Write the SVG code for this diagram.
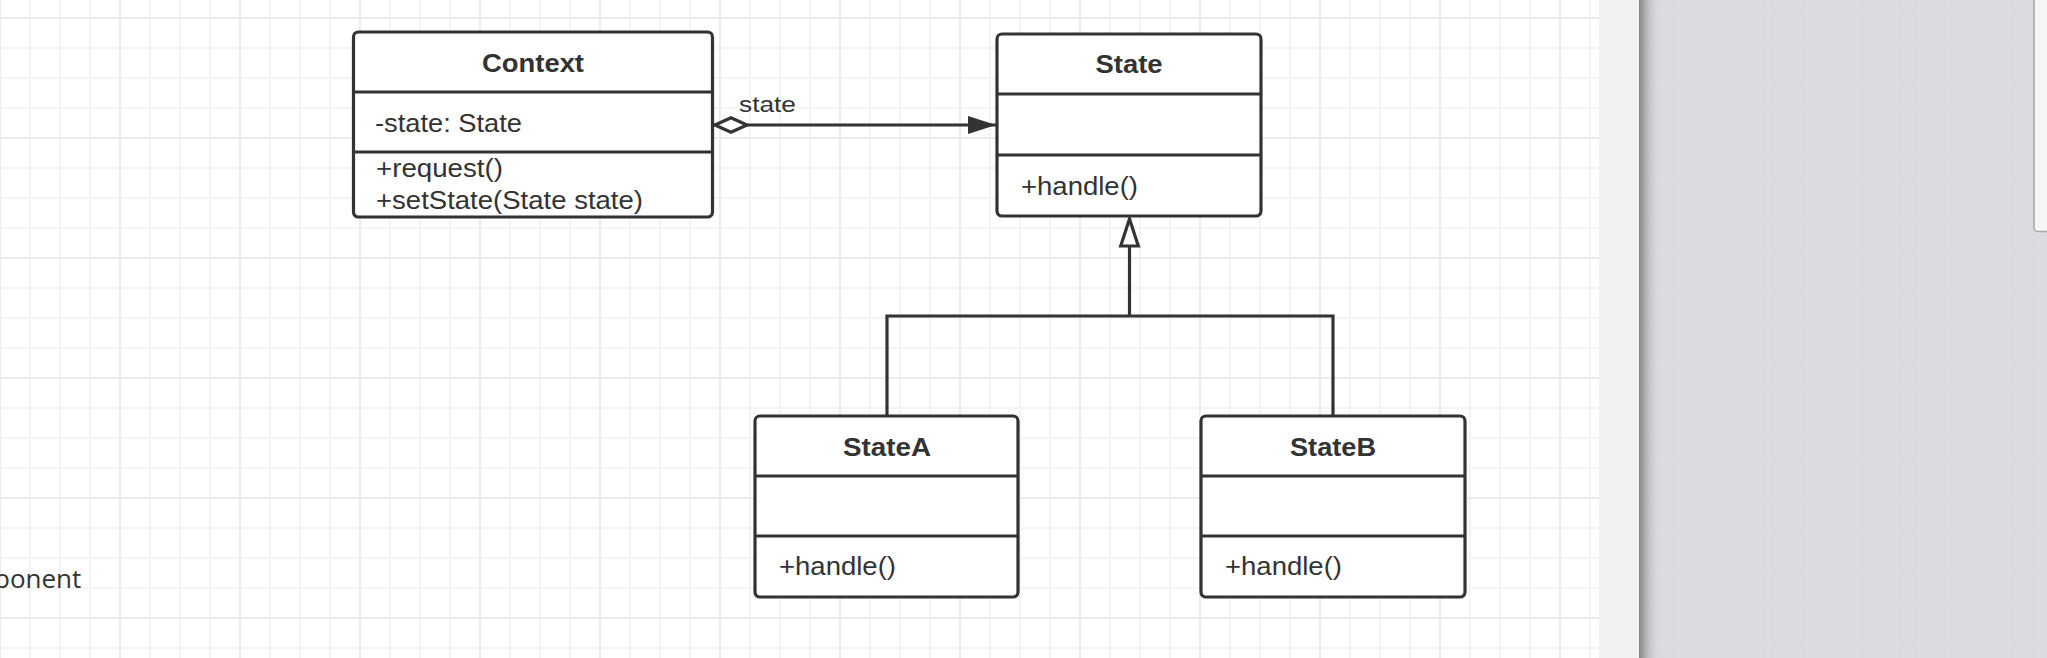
<svg xmlns="http://www.w3.org/2000/svg" width="2047" height="658" viewBox="0 0 2047 658">
  <style>
    .box { fill: #ffffff; stroke: #333333; stroke-width: 3.2; }
    .div { stroke: #333333; stroke-width: 3.2; fill: none; }
    .title { font-family: "Liberation Sans", Arial, sans-serif; font-weight: bold; font-size: 25px; fill: #333333; text-anchor: middle; }
    .member { font-family: "Liberation Sans", Arial, sans-serif; font-size: 25px; fill: #333333; }
    .label { font-family: "Liberation Sans", Arial, sans-serif; font-size: 22px; fill: #333333; }
    .edge { stroke: #333333; stroke-width: 3.2; fill: none; }
    .bgtext { font-family: "Open Sans", "Liberation Sans", sans-serif; font-size: 26px; fill: #333333; }
  </style>
  <defs>
    <pattern id="gridMinor" patternUnits="userSpaceOnUse" x="-15" y="3" width="30" height="30">
      <path d="M15,0 V30 M0,15 H30" stroke="#f4f4f4" stroke-width="2" fill="none"/>
    </pattern>
    <pattern id="gridMajor" patternUnits="userSpaceOnUse" x="-60" y="-42" width="120" height="120">
      <path d="M60,0 V120 M0,60 H120" stroke="#ececec" stroke-width="2" fill="none"/>
    </pattern>
    <linearGradient id="panelShadow" x1="0" y1="0" x2="1" y2="0">
      <stop offset="0" stop-color="#858585"/>
      <stop offset="0.3" stop-color="#b0b1b4"/>
      <stop offset="1" stop-color="#dbdce0" stop-opacity="0"/>
    </linearGradient>
    <pattern id="texture" patternUnits="userSpaceOnUse" width="90" height="70">
      <rect width="90" height="70" fill="#dadbdf"/>
      <path d="M7,0 V70 M29,0 V70 M58,0 V70 M0,13 H90 M0,41 H90" stroke="#dfe0e3" stroke-width="1" fill="none"/>
    </pattern>
    <marker id="diamond" markerUnits="userSpaceOnUse" viewBox="0 0 36 18" refX="1" refY="9" markerWidth="36" markerHeight="18" orient="auto" overflow="visible">
      <path d="M2,9 L18,1.8 L34,9 L18,16.2 Z" fill="#ffffff" stroke="#333333" stroke-width="3.2"/>
    </marker>
    <marker id="arrow" markerUnits="userSpaceOnUse" viewBox="0 0 28 18" refX="28" refY="9" markerWidth="28" markerHeight="18" orient="auto" overflow="visible">
      <path d="M0,0 L28,9 L0,18 Z" fill="#333333"/>
    </marker>
    <marker id="hollow" markerUnits="userSpaceOnUse" viewBox="0 0 30 20" refX="28" refY="10" markerWidth="30" markerHeight="20" orient="auto" overflow="visible">
      <path d="M0,1.2 L27,10 L0,18.8 Z" fill="#ffffff" stroke="#333333" stroke-width="3.2"/>
    </marker>
  </defs>

  <g id="background">
    <rect x="0" y="0" width="1599" height="658" fill="#ffffff"/>
    <rect x="0" y="0" width="1599" height="658" fill="url(#gridMinor)"/>
    <rect x="0" y="0" width="1599" height="658" fill="url(#gridMajor)"/>
    <rect x="1599" y="0" width="40" height="658" fill="#f2f2f2"/>
    <rect x="1639" y="0" width="408" height="658" fill="url(#texture)"/>
    <rect x="1639" y="0" width="22" height="658" fill="url(#panelShadow)"/>
    <rect x="2034" y="-6" width="30" height="237.5" rx="4" fill="#f6f6f6" stroke="#a8a8a8" stroke-width="1.5"/>
    <text class="bgtext" x="-6" y="588">ponent</text>
  </g>

  <g id="connectors">
    <path class="edge" d="M714,125 L996,125" marker-start="url(#diamond)" marker-end="url(#arrow)"/>
    <text class="label" x="739" y="111.5" textLength="57" lengthAdjust="spacingAndGlyphs">state</text>
    <path class="edge" d="M887,416 V316 H1333 V416"/>
    <path class="edge" d="M1129.5,316 V218" marker-end="url(#hollow)"/>
  </g>

  <g id="Context">
    <rect class="box" x="353.5" y="32" width="359" height="185" rx="5"/>
    <path class="div" d="M353.5,92 H712.5 M353.5,152 H712.5"/>
    <text class="title" x="533" y="72" textLength="102" lengthAdjust="spacingAndGlyphs">Context</text>
    <text class="member" x="375" y="131.5" textLength="147" lengthAdjust="spacingAndGlyphs">-state: State</text>
    <text class="member" x="376" y="177" textLength="127" lengthAdjust="spacingAndGlyphs">+request()</text>
    <text class="member" x="376" y="209" textLength="267" lengthAdjust="spacingAndGlyphs">+setState(State state)</text>
  </g>

  <g id="State">
    <rect class="box" x="997" y="34" width="264" height="182" rx="5"/>
    <path class="div" d="M997,94 H1261 M997,155 H1261"/>
    <text class="title" x="1129" y="73" textLength="67" lengthAdjust="spacingAndGlyphs">State</text>
    <text class="member" x="1021" y="195" textLength="117" lengthAdjust="spacingAndGlyphs">+handle()</text>
  </g>

  <g id="StateA">
    <rect class="box" x="755" y="416" width="263" height="181" rx="5"/>
    <path class="div" d="M755,476 H1018 M755,536 H1018"/>
    <text class="title" x="887" y="456" textLength="88" lengthAdjust="spacingAndGlyphs">StateA</text>
    <text class="member" x="779" y="575" textLength="117" lengthAdjust="spacingAndGlyphs">+handle()</text>
  </g>

  <g id="StateB">
    <rect class="box" x="1201" y="416" width="264" height="181" rx="5"/>
    <path class="div" d="M1201,476 H1465 M1201,536 H1465"/>
    <text class="title" x="1333" y="456" textLength="86" lengthAdjust="spacingAndGlyphs">StateB</text>
    <text class="member" x="1225" y="575" textLength="117" lengthAdjust="spacingAndGlyphs">+handle()</text>
  </g>
</svg>
